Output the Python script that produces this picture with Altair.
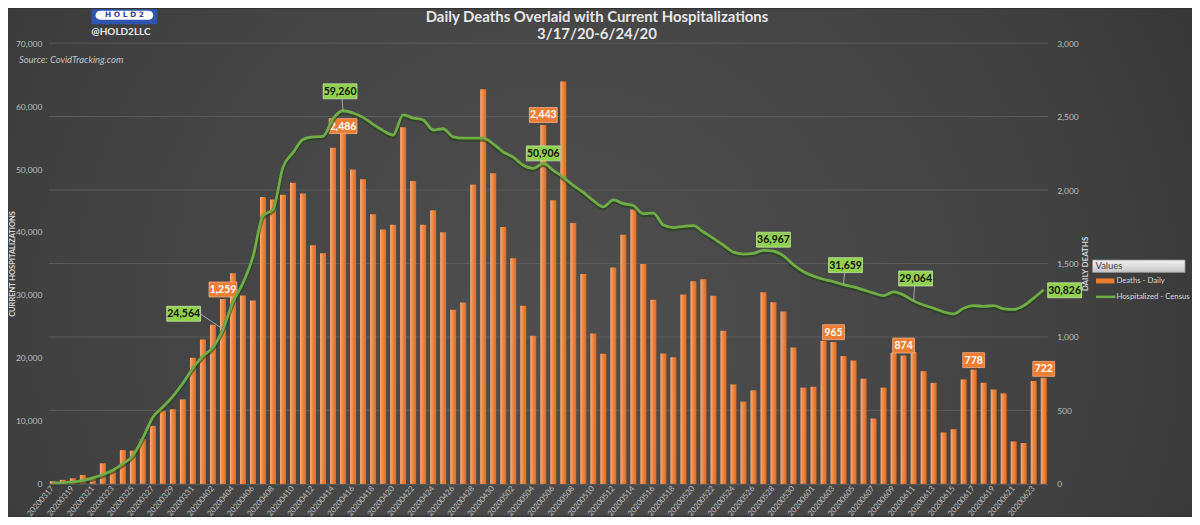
import altair as alt
import pandas as pd

# ---------------- data ----------------
dates = [d.strftime("%Y%m%d") for d in pd.date_range("2020-03-17", "2020-06-24", freq="D")]

deaths_mar = [18, 27, 38, 61, 45, 140, 90, 230, 226, 305, 395, 497, 508, 575, 858]
deaths_apr = [982, 1083, 1259, 1433, 1282, 1248, 1952, 1936, 1968, 2049, 1977, 1625, 1569, 2287, 2486,
              2140, 2074, 1835, 1731, 1763, 2427, 2061, 1763, 1862, 1713, 1185, 1235, 2038, 2686, 2115]
deaths_may = [1749, 1535, 1212, 1009, 2443, 1930, 2738, 1776, 1429, 1023, 885, 1472, 1695, 1867, 1497,
              1253, 887, 862, 1289, 1379, 1393, 1280, 1043, 677, 560, 637, 1305, 1237, 1174, 928, 655]
deaths_jun = [661, 975, 965, 870, 840, 716, 445, 655, 892, 874, 898, 767, 688, 350, 372,
              711, 778, 688, 643, 616, 289, 278, 700, 722]

hosp_mar = [150, 200, 300, 550, 950, 1500, 2150, 3200, 4500, 7300, 10600, 12200, 13900, 16000, 18400]
hosp_apr = [20300, 21700, 24564, 28900, 31900, 36100, 42600, 43600, 50300, 52600, 54700, 55100, 55200, 58000, 59260,
            58900, 58200, 57100, 56100, 55400, 58600, 58100, 57800, 56200, 56400, 55100, 54900, 54900, 54900, 54000]
hosp_may = [52700, 51900, 50600, 50100, 50906, 49800, 48700, 47400, 46300, 45000, 44000, 45100, 44500, 44200, 42900,
            43000, 41100, 40700, 40900, 41000, 40000, 39000, 37900, 36800, 36500, 36600, 37100, 36967, 36200, 34800, 33700]
hosp_jun = [33000, 32500, 32100, 31659, 31300, 30800, 30300, 29900, 30500, 30000, 29064, 28400, 27900, 27300, 27000,
            27900, 28300, 28200, 28300, 27800, 27700, 28300, 29500, 30826]

deaths = deaths_mar + deaths_apr + deaths_may + deaths_jun
hosp = hosp_mar + hosp_apr + hosp_may + hosp_jun

tick_dates = dates[::2]
death_ticks = [0, 500, 1000, 1500, 2000, 2500, 3000]
hosp_ticks = [0, 10000, 20000, 30000, 40000, 50000, 60000, 70000]

death_label_dates = ["20200403", "20200415", "20200505", "20200603", "20200610", "20200617", "20200624"]
hosp_label_dates = ["20200403", "20200415", "20200505", "20200528", "20200604", "20200611", "20200624"]

title_lines = ["Daily Deaths Overlaid with Current Hospitalizations", "3/17/20-6/24/20"]
legend_title = "Values"
legend_items = ["Deaths - Daily", "Hospitalized - Census"]

df = pd.DataFrame({"date": dates, "deaths": deaths, "hosp": hosp})

# ---------------- layout / style ----------------
W, H = 1004, 443
PL, PT, PR, PB = 41, 34, 145, 32
FONT = "Lato"
ORANGE = "#ed7d31"
GREEN = "#70ad47"
LBL = "#bfbfbf"

# label box placement (pixel offsets from the data point)
death_label_dy = [-9.5, 7.5, -10, -10, -10, -9.5, -9]
hosp_label_off = [(-39.5, -15.5), (-3, -19.5), (0, -10), (0, -11.5), (2, -19.5), (2, -22.5), (21, 0.5)]
hosp_leaders = ["M0,0L-22,-15", "M0,0L-1,-12", None, None, "M0,0L1,-12", "M0,0L1,-15", None]


def box_path(cx, cy, w, h=15):
    return f"M{cx - w / 2},{cy - h / 2}h{w}v{h}h{-w}Z"


x_scale = alt.Scale(domain=dates, paddingInner=0.4, paddingOuter=0.1)


def yd(field="deaths", axis=None):
    return alt.Y(f"{field}:Q", scale=alt.Scale(domain=[0, 3000], nice=False), axis=axis)


def yh(axis=None):
    return alt.Y("hosp:Q", scale=alt.Scale(domain=[0, 70000], nice=False), axis=axis)


x_axis = alt.Axis(values=tick_dates, labelAngle=-50, labelFontSize=8, labelColor=LBL,
                  labelFont=FONT, ticks=False, domainColor="#5c5c5c", labelPadding=3,
                  title=None, labelOverlap=False, zindex=1)
X = alt.X("date:N", scale=x_scale, sort=None, axis=x_axis)

one = alt.Data(values=[{}])

# ---------------- background ----------------
bg = alt.Chart(one).mark_rect(
    fill=alt.RadialGradient(gradient="radial",
                            stops=[alt.GradientStop(offset=0, color="#4f4f4f"),
                                   alt.GradientStop(offset=0.55, color="#414141"),
                                   alt.GradientStop(offset=1, color="#2b2b2b")],
                            x1=0.47, y1=0.55, x2=0.47, y2=0.55, r1=0, r2=0.78)
).encode(x=alt.value(-PL), x2=alt.value(W + PR), y=alt.value(-PT), y2=alt.value(H + PB))

# ---------------- deaths (right axis) ----------------
grid = alt.Chart(pd.DataFrame({"tick": death_ticks[1:]})).mark_rule(color="#5c5c5c", strokeWidth=1).encode(
    y=yd("tick"))

bar_grad = alt.LinearGradient(gradient="linear",
                              stops=[alt.GradientStop(offset=0, color="#f7ae7c"),
                                     alt.GradientStop(offset=0.45, color="#f08540"),
                                     alt.GradientStop(offset=1, color="#de6b20")],
                              x1=0, y1=0, x2=1, y2=0)

right_axis = alt.Axis(orient="right", values=death_ticks, format=",.0f", labelColor=LBL, labelFont=FONT,
                      labelFontSize=8.5, ticks=False, domain=False, grid=False, labelPadding=9,
                      title="DAILY DEATHS", titleFont=FONT, titleFontSize=8, titleFontWeight="bold",
                      titleColor="#d9d9d9", titleAngle=270, titleBaseline="middle",
                      titleX=38, titleY=H / 2, zindex=1)
bars = alt.Chart(df).mark_bar(fill=bar_grad).encode(
    x=X, y=yd("deaths", right_axis), tooltip=["date:N", "deaths:Q"])

layers = [bg, grid, bars]
for d, dy in zip(death_label_dates, death_label_dy):
    sub = df[df["date"] == d]
    txt = f"{int(sub['deaths'].iloc[0]):,}"
    w = 6 * sum(c.isdigit() for c in txt) + 4
    layers.append(alt.Chart(sub).mark_point(shape=box_path(0, dy, w), size=4, filled=True, fill=ORANGE,
                                            stroke="#f5b08a", strokeWidth=0.8, opacity=1)
                  .encode(x=X, y=yd()))
    layers.append(alt.Chart(sub).mark_text(dy=dy + 0.5, font=FONT, fontSize=10.5, fontWeight="bold",
                                           color="#ffffff")
                  .encode(x=X, y=yd(), text=alt.Text("deaths:Q", format=",")))

# ---------------- hospitalizations (left axis) ----------------
left_axis = alt.Axis(orient="left", values=hosp_ticks, format=",.0f", labelColor=LBL, labelFont=FONT,
                     labelFontSize=8.5, ticks=False, domain=False, grid=False, labelPadding=7,
                     title="CURRENT HOSPITALIZATIONS", titleFont=FONT, titleFontSize=7.5,
                     titleFontWeight="bold", titleColor="#d9d9d9", titleAngle=270, titleBaseline="middle",
                     titleX=-36, titleY=H / 2, zindex=1)
shadow = alt.Chart(df).mark_line(color="#25401a", strokeWidth=4.2, opacity=0.6, interpolate="monotone",
                                 yOffset=1.5).encode(x=X, y=yh(left_axis))
line = alt.Chart(df).mark_line(color=GREEN, strokeWidth=2.8, interpolate="monotone").encode(
    x=X, y=yh(), tooltip=["date:N", "hosp:Q"])
layers += [shadow, line]

for d, (dx, dy), lead in zip(hosp_label_dates, hosp_label_off, hosp_leaders):
    sub = df[df["date"] == d]
    txt = f"{int(sub['hosp'].iloc[0]):,}"
    w = 6 * sum(c.isdigit() for c in txt) + 4
    if lead:
        layers.append(alt.Chart(sub).mark_point(shape=lead, size=4, filled=False, stroke="#a6a6a6",
                                                strokeWidth=1, opacity=1)
                      .encode(x=X, y=yh()))
    layers.append(alt.Chart(sub).mark_point(shape=box_path(dx, dy, w), size=4, filled=True, fill="#92d050",
                                            stroke="#c3e6a0", strokeWidth=0.8, opacity=1)
                  .encode(x=X, y=yh()))
    layers.append(alt.Chart(sub).mark_text(dx=dx, dy=dy + 0.5, font=FONT, fontSize=10.5, fontWeight="bold",
                                           color="#111111")
                  .encode(x=X, y=yh(), text=alt.Text("hosp:Q", format=",")))

# ---------------- decorations: title, source, logo, legend ----------------
title1 = alt.Chart(one).mark_text(text=title_lines[0], font=FONT, fontSize=15, fontWeight="bold",
                                  color="#e6e6e6", baseline="alphabetic").encode(
    x=alt.value(W / 2 + 49), y=alt.value(-21))
title2 = alt.Chart(one).mark_text(text=title_lines[1], font=FONT, fontSize=15, fontWeight="bold",
                                  color="#e6e6e6", baseline="alphabetic").encode(
    x=alt.value(W / 2 + 49), y=alt.value(-4))

source = alt.Chart(one).mark_text(text="Source: CovidTracking.com", font=FONT, fontSize=9.5, fontStyle="italic",
                                  color="#c4c4c4", align="left", baseline="alphabetic").encode(
    x=alt.value(-30), y=alt.value(20))

logo_bg = alt.Chart(one).mark_rect(color="#2f55b0").encode(
    x=alt.value(43), x2=alt.value(109), y=alt.value(-34), y2=alt.value(-19))
logo_pill = alt.Chart(one).mark_rect(color="#ffffff", cornerRadius=5).encode(
    x=alt.value(47), x2=alt.value(105), y=alt.value(-32.5), y2=alt.value(-23.5))
logo_txt = alt.Chart(one).mark_text(text="H O L D 2", font="DejaVu Sans", fontSize=7.5, fontWeight="bold",
                                    color="#2a4a9a").encode(x=alt.value(76), y=alt.value(-28))
handle = alt.Chart(one).mark_text(text="@HOLD2LLC", font=FONT, fontSize=10, fontWeight="bold",
                                  color="#e8e8e8", baseline="alphabetic").encode(x=alt.value(72.5), y=alt.value(-8))

leg_box = alt.Chart(one).mark_rect(
    fill=alt.LinearGradient(gradient="linear", stops=[alt.GradientStop(offset=0, color="#f2f2f2"),
                                                      alt.GradientStop(offset=1, color="#c4c4c4")],
                            x1=0, y1=0, x2=0, y2=1),
    stroke="#8c8c8c", strokeWidth=0.8).encode(
    x=alt.value(1049), x2=alt.value(1142), y=alt.value(218), y2=alt.value(230.5))
leg_title = alt.Chart(one).mark_text(text=legend_title, font=FONT, fontSize=9.5, color="#404040",
                                     align="left").encode(x=alt.value(1052), y=alt.value(224.5))
leg_sw1 = alt.Chart(one).mark_rect(color=ORANGE).encode(
    x=alt.value(1052.5), x2=alt.value(1071), y=alt.value(236.5), y2=alt.value(241.5))
leg_t1 = alt.Chart(one).mark_text(text=legend_items[0], font=FONT, fontSize=7.8, color="#d9d9d9",
                                  align="left").encode(x=alt.value(1073), y=alt.value(239.5))
leg_sw2 = alt.Chart(one).mark_rule(color=GREEN, strokeWidth=2.5).encode(
    x=alt.value(1052.5), x2=alt.value(1072), y=alt.value(255))
leg_t2 = alt.Chart(one).mark_text(text=legend_items[1], font=FONT, fontSize=7.8, color="#d9d9d9",
                                  align="left").encode(x=alt.value(1073), y=alt.value(255.5))

layers += [title1, title2, source, logo_bg, logo_pill, logo_txt, handle,
           leg_box, leg_title, leg_sw1, leg_t1, leg_sw2, leg_t2]

chart = alt.layer(*layers).resolve_scale(y="independent").properties(
    width=W, height=H,
    padding={"left": PL, "top": PT, "right": PR, "bottom": PB},
    autosize=alt.AutoSizeParams(type="none"),
    background="#333333",
).configure_view(stroke=None)

chart.save("out.html", embed_options={"renderer": "svg", "actions": False})
